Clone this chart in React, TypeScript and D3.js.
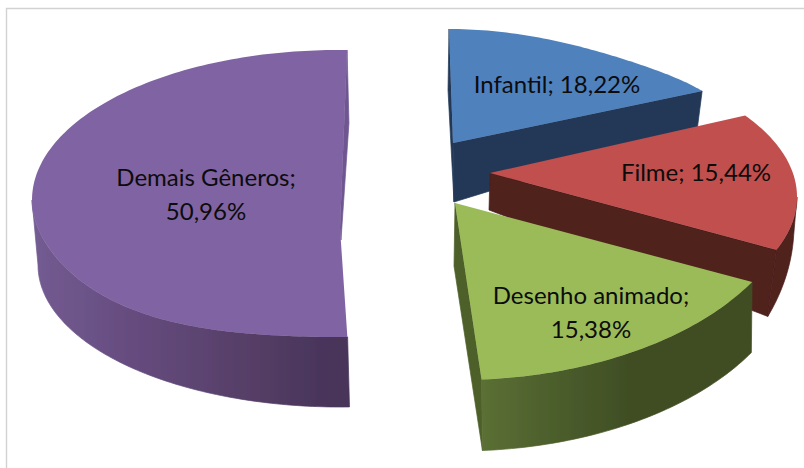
import React from "react";
import * as d3 from "d3";

const categories = ["Infantil", "Filme", "Desenho animado", "Demais Gêneros"];
const values = [18.22, 15.44, 15.38, 50.96];
const topColors = ["#4f81bd", "#c0504d", "#9bbb59", "#8064a2"];
const valueLabels = ["18,22%", "15,44%", "15,38%", "50,96%"];

// Layout of each exploded slice in the tilted view (perspective ellipses).
const layouts = [
  {
    rot: 0, top: { cx: 449, cy: 126, rx: 278, ry: 97, bulgeUp: 9 },
    botRot: 0, bot: { cx: 448, cy: 153, rx: 274, ry: 63 },
    apex: [453, 143], apexBot: [454, 202], cuts: ["start", "end"], wallFrom: null,
    sideFill: "#233957", cutFill: "#233957",
    label: { x: 557, ys: [93] }, oneLine: true,
  },
  {
    rot: -9.8, top: { cx: 497, cy: 197, rx: 300, ry: 145 },
    botRot: -7.2, bot: { cx: 490, cy: 225, rx: 304, ry: 225 },
    apex: [490, 173], apexBot: [489, 210], cuts: ["end"], wallFrom: 99.8,
    sideFill: "#4f201f", cutFill: "#4f201f",
    label: { x: 696, ys: [181] }, oneLine: true,
  },
  {
    rot: -0.5, top: { cx: 458, cy: 180, rx: 342, ry: 200 },
    botRot: -0.5, bot: { cx: 459, cy: 250, rx: 340, ry: 201 },
    apex: [455, 203], apexBot: [454, 266], cuts: ["end"], wallFrom: 121.2,
    sideFill: "url(#greenSide)", cutFill: "#4d6029",
    label: { x: 591, ys: [304, 338] }, oneLine: false,
  },
  {
    rot: 1.7, top: { cx: 338, cy: 200, rx: 306, ry: 150, ryLow: 137, bulge: 8 },
    botRot: 1.7, bot: { cx: 340, cy: 265, rx: 302, ry: 142 },
    apex: [340, 228], apexBot: [341, 240], cuts: ["end"], wallFrom: 176.5, wallTo: 268.3,
    sideFill: "url(#purpleSide)", cutFill: "#6f5690",
    label: { x: 206, ys: [186, 220] }, oneLine: false,
  },
];

const deg = Math.PI / 180;

function onEllipse(e: any, tDeg: number): [number, number] {
  const t = tDeg * deg;
  const s = Math.sin(t);
  const c = Math.cos(t);
  const ry = c < 0 && e.ryLow ? e.ryLow : e.ry;
  const wobble = Math.sin(2 * t) ** 2;
  const extra = (c < 0 && e.bulge ? e.bulge * wobble : 0) + (c > 0 && e.bulgeUp ? e.bulgeUp * wobble : 0);
  return [e.cx + e.rx * s, e.cy - ry * c + extra];
}

function arcPoints(e: any, a0: number, a1: number, rot: number) {
  const n = Math.max(2, Math.ceil(Math.abs(a1 - a0)));
  return d3.range(n + 1).map((i) => onEllipse(e, a0 + ((a1 - a0) * i) / n + rot));
}

const closed = d3.line().curve(d3.curveLinearClosed);

const slices = d3
  .pie<number>()
  .sort(null)
  .value((d) => d)(values);

export default function App() {
  return (
    <svg
      width={804}
      height={468}
      viewBox="0 0 804 468"
      style={{ position: "fixed", left: 0, top: 0, display: "block", background: "#fff" }}
    >
      <defs>
        <linearGradient id="purpleSide" gradientUnits="userSpaceOnUse" x1={31} x2={348} y1={0} y2={0}>
          <stop offset="0" stopColor="#735c92" />
          <stop offset="0.33" stopColor="#654b7e" />
          <stop offset="0.65" stopColor="#574069" />
          <stop offset="0.95" stopColor="#48345a" />
        </linearGradient>
        <linearGradient id="greenSide" gradientUnits="userSpaceOnUse" x1={483} x2={748} y1={0} y2={0}>
          <stop offset="0" stopColor="#5a6f34" />
          <stop offset="0.3" stopColor="#4a5c2b" />
          <stop offset="0.55" stopColor="#404e24" />
          <stop offset="1" stopColor="#414e24" />
        </linearGradient>
        <filter id="soft" x="-5%" y="-5%" width="110%" height="110%">
          <feGaussianBlur stdDeviation="0.5" />
        </filter>
      </defs>
      <path d="M6.5,468V8.5H804" fill="none" stroke="#d2d2d2" strokeWidth={1.4} />
      {slices.map((sl, i) => {
        const L: any = layouts[i];
        const a0 = sl.startAngle / deg;
        const a1 = sl.endAngle / deg;
        const arcTop = arcPoints(L.top, a0, a1, L.rot);
        const faces = L.cuts.map((c: string) => {
          // the purple slice's thin visible cut is its far edge; green's is its near one
          const a = c === "start" ? a0 : a1;
          return [L.apex, onEllipse(L.top, a + L.rot), onEllipse(L.bot, a + L.botRot), L.apexBot];
        });
        const wall =
          L.wallFrom === null
            ? null
            : [
                ...arcPoints(L.top, L.wallFrom, L.wallTo ?? a1, L.rot),
                ...arcPoints(L.bot, L.wallTo ?? a1, L.wallFrom, L.botRot),
              ];
        const topFace = [L.apex, ...arcTop];
        return (
          <g key={categories[i]} filter="url(#soft)">
            {faces.map((f: any, k: number) => (
              <path key={k} d={closed(f) as string} fill={L.cutFill} stroke={L.cutFill} strokeWidth={0.7} />
            ))}
            {wall && <path d={closed(wall as any) as string} fill={L.sideFill} stroke={L.sideFill} strokeWidth={0.7} />}
            <path d={closed(topFace as any) as string} fill={topColors[i]} />
          </g>
        );
      })}
      <g fontFamily="Lato, Carlito, sans-serif" fontSize={24} fill="#0c0c0c" textAnchor="middle">
        {categories.map((c, i) => {
          const L: any = layouts[i];
          const lines = L.oneLine ? [`${c}; ${valueLabels[i]}`] : [`${c};`, valueLabels[i]];
          return lines.map((t, k) => (
            <text key={c + k} x={L.label.x} y={L.label.ys[k]}>
              {t}
            </text>
          ));
        })}
      </g>
    </svg>
  );
}
